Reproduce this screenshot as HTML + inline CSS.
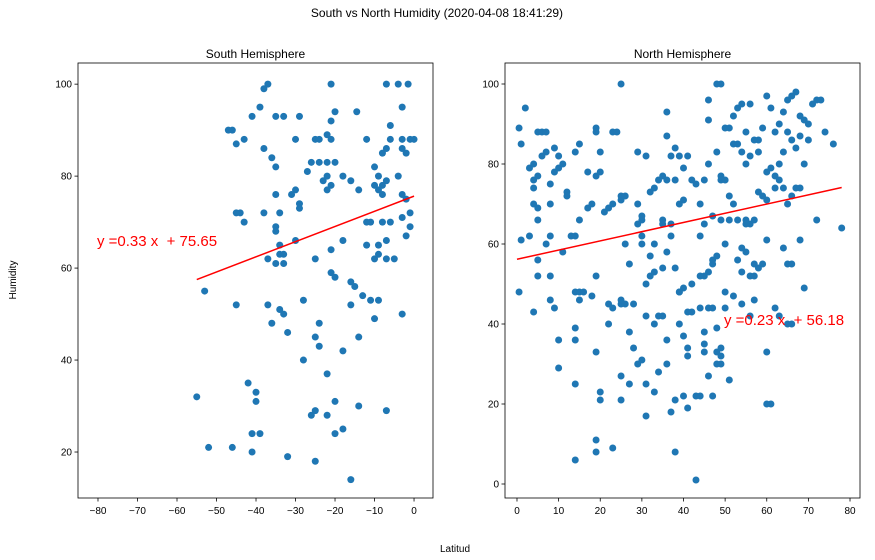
<!DOCTYPE html>
<html><head><meta charset="utf-8"><style>
body{margin:0;background:#fff;width:875px;height:560px;overflow:hidden}
svg{display:block;font-family:"Liberation Sans","DejaVu Sans",sans-serif}
.eq{white-space:pre}
</style></head><body>
<svg id="fig" width="875" height="560" xmlns="http://www.w3.org/2000/svg">
<rect width="875" height="560" fill="#fff"/>
<text x="437" y="17" text-anchor="middle" font-size="12">South vs North Humidity (2020-04-08 18:41:29)</text>
<text x="455" y="552" text-anchor="middle" font-size="10">Latitud</text>
<text transform="translate(16,280) rotate(-90)" text-anchor="middle" font-size="10">Humidity</text>
</svg>
<script>
const southLat=[-38,-37,-21,-7,-4,-1.5,-39,-3,-41,-35,-33,-29,-20,-14.5,-21,-6,-47,-46,-43,-38,-45,-30,-25,-24,-22,-21,-12,-6,-3,-1,0,-7,-8,-3,-2,-36,-35,-26,-24,-22,-20,-27,-18,-23,-44,-45,-38,-35,-34,-30,-31,-29,-29,-22,-21,-22,-16,-14,-10,-9,-10,-9,-8,-8,-7,-4,-3,-2,-1,-3,-43,-35,-35,-30,-34,-18,-21,-12,-11,-8,-6,-9,-7,-2,-1,-37,-34,-33,-35,-33,-25,-21,-20,-16,-15,-12,-10,-9,-7,-5,-16,-53,-45,-37,-34,-33,-28,-11,-9,-10,-3,-13,-36,-32,-24,-24,-28,-25,-14,-55,-42,-40,-40,-20,-22,-18,-14,-7,-22,-52,-46,-41,-39,-32,-26,-25,-20,-18,-25,-16,-41];
const southHum=[99,100,100,100,100,100,95,95,93,93,93,93,94,94,92,91,90,90,88,86,87,88,88,88,89,88,88,88,88,88,88,86,85,86,85,84,82,83,83,83,83,81,80,79,72,72,72,76,72,77,76,74,73,80,78,77,79,77,82,80,78,77,76,78,79,80,76,75,72,71,70,69,68,66,65,66,64,70,70,70,70,65,66,67,69,62,63,63,61,61,62,59,58,57,56,65,62,63,62,62,52,55,52,52,51,50,53,53,53,49,50,54,48,46,48,43,40,45,45,32,35,33,31,31,37,42,30,29,28,21,21,24,24,19,28,29,24,25,18,14,20];
const northLat=[0.5,1,2,0.5,3,4,4,4,4,5,5,5,5,6,7,6,7,8,8,8,9,9,10,10,11,12,12,13,14,15,14,15,17,17,18,19,19,20,19,20,21,22,23,23,24,25,25,26,26,27,29,30,30,31,32,33,34,35,33,35,36,36,37,38,39,40,39,40,41,42,43,44,45,45,46,46,36,37,38,29,30,28,27,31,32,35,48,51,52,53,54,55,56,58,59,60,61,62,63,64,65,66,67,68,69,70,71,72,73,74,70,68,67,66,65,64,63,62,61,60,58,57,56,55,54,53,52,50,49,48,49,50,51,52,55,56,58,59,60,62,63,64,65,66,67,68,69,72,76,78,60,57,55,53,51,49,47,46,44,50,54,55,57,59,64,65,66,68,69,60,61,60,48,47,46,45,44,42,40,41,39,38,36,37,35,33,32,30,29,1,3,5,5,4,7,8,8,9,10,10,11,14,14,14,14,14,15,15,16,18,19,19,20,20,19,19,22,22,23,23,25,25,25,25,26,27,28,29,31,30,31,31,33,33,34,34,35,36,36,37,38,38,39,39,40,40,41,41,41,42,43,43,44,44,45,45,45,46,46,47,47,47,48,48,48,49,49,49,50,51,53,54,56,57,58,57,56,54,52,50,65,66,62,63,25,49];
const northHum=[89,85,94,48,79,80,76,74,70,69,66,77,88,88,88,82,83,75,62,70,78,84,82,79,80,73,72,62,62,66,83,85,78,69,70,89,88,83,77,78,68,69,70,88,88,71,72,72,60,55,83,62,66,82,73,74,76,77,60,66,93,87,82,84,82,79,70,71,82,76,75,70,65,76,91,96,76,65,76,70,67,45,38,50,52,65,100,89,92,94,95,88,95,86,89,97,94,88,90,93,96,97,98,92,91,90,95,96,96,88,86,87,84,86,88,83,80,77,79,78,83,86,82,80,83,85,85,89,77,83,76,76,72,70,66,65,73,72,71,74,76,74,70,72,74,74,80,66,85,64,61,66,65,66,66,66,67,80,62,60,59,58,55,55,59,55,55,61,49,33,20,20,57,55,53,52,52,50,49,43,48,54,58,62,54,53,57,60,65,61,62,56,52,43,60,46,52,44,36,29,58,48,39,36,25,6,46,48,48,47,52,33,21,23,11,8,45,40,44,9,45,46,27,21,45,25,34,30,42,31,25,17,40,23,28,42,42,36,30,18,21,8,40,48,22,37,32,34,19,43,22,1,22,44,33,35,38,27,44,22,44,56,30,33,39,34,30,32,44,26,56,53,52,52,54,46,42,45,47,48,40,40,44,42,100,100];
const southSlope=[0.33], southIntercept=[75.65];
const northSlope=[0.23], northIntercept=[56.18];
const southXTicks=[-80,-70,-60,-50,-40,-30,-20,-10,0];
const southYTicks=[20,40,60,80,100];
const northXTicks=[0,10,20,30,40,50,60,70,80];
const northYTicks=[0,20,40,60,80,100];

const NS='http://www.w3.org/2000/svg';
const fig=document.getElementById('fig');
function mk(tag,attrs,parent){const e=document.createElementNS(NS,tag);for(const k in attrs)e.setAttribute(k,attrs[k]);(parent||fig).appendChild(e);return e;}

function panel(key,title,box,xd,yd,lat,hum,xt,yt,slope,icpt,lineX,labelPos){
  const g=mk('g',{});
  
  
  const sx=v=>box.x+(v-xd[0])/(xd[1]-xd[0])*box.w;
  const sy=v=>box.y+box.h-(v-yd[0])/(yd[1]-yd[0])*box.h;
  const t=mk('text',{x:box.x+box.w/2,y:box.y-5,'text-anchor':'middle','font-size':12},g);
  t.textContent=title;
  
  
  xt.forEach(v=>{const x=sx(v);
    mk('line',{x1:x,x2:x,y1:box.y+box.h,y2:box.y+box.h+3.5,stroke:'#000','stroke-width':0.8},g);
    const tx=mk('text',{x:x,y:box.y+box.h+16,'text-anchor':'middle','font-size':10},g);tx.textContent=String(v).replace('-','\u2212');
    
    });
  yt.forEach(v=>{const y=sy(v);
    mk('line',{x1:box.x-3.5,x2:box.x,y1:y,y2:y,stroke:'#000','stroke-width':0.8},g);
    const ty=mk('text',{x:box.x-6,y:y+3.5,'text-anchor':'end','font-size':10},g);ty.textContent=v;
    
    });
  for(let i=0;i<lat.length;i++){
    const c=mk('circle',{cx:sx(lat[i]),cy:sy(hum[i]),r:3.5,fill:'#1f77b4'},g);
    
    
  }
  const l=mk('line',{x1:sx(lineX[0]),y1:sy(slope[0]*lineX[0]+icpt[0]),x2:sx(lineX[1]),y2:sy(slope[0]*lineX[1]+icpt[0]),stroke:'red','stroke-width':1.5},g);
  
  
  const eq=mk('text',{x:labelPos[0],y:labelPos[1],'font-size':15,fill:'red','class':'eq'},g);
  eq.textContent='y ='+slope[0]+' x  + '+icpt[0];
  
  
  const f=mk('rect',{x:box.x,y:box.y,width:box.w,height:box.h,fill:'none',stroke:'#000','stroke-width':0.8},g);
  
  
}
panel('south','South Hemisphere',{x:78,y:63,w:355,h:435},[-85.06,4.8],[10,104.6],southLat,southHum,southXTicks,southYTicks,southSlope,southIntercept,[-55,0],[97,246]);
panel('north','North Hemisphere',{x:505,y:63,w:355,h:435},[-2.88,82.4],[-3.5,105.25],northLat,northHum,northXTicks,northYTicks,northSlope,northIntercept,[0,78],[724,325]);
</script>
</body></html>
